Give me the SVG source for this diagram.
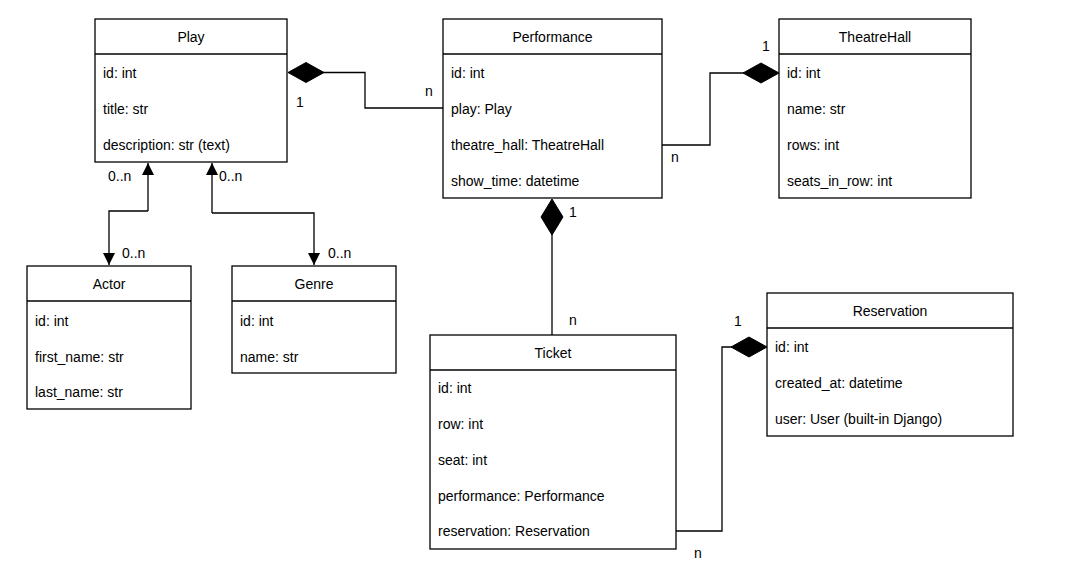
<svg xmlns="http://www.w3.org/2000/svg" width="1071" height="576" viewBox="0 0 1071 576">
<style>
.box{fill:#fff;stroke:#000;stroke-width:1.3}
.sep{stroke:#000;stroke-width:1.3}
text{font-family:"Liberation Sans",Arial,sans-serif;font-size:14px;fill:#000}
.h{text-anchor:middle}
.ln{fill:none;stroke:#000;stroke-width:1.3}
.dia{fill:#000;stroke:#000;stroke-width:1}
</style>
<defs>
<marker id="arr" markerWidth="12" markerHeight="12" refX="10" refY="5" orient="auto" markerUnits="userSpaceOnUse" viewBox="0 0 10 10">
<path d="M0,0 L10,5 L0,10 Z" fill="#000"/>
</marker>
</defs>
<rect width="1071" height="576" fill="#fff"/>

<g id="connectors">
  <!-- Play - Performance -->
  <path class="ln" d="M323,72.5 H365 V108 H443"/>
  <polygon class="dia" points="288,72.5 306,62.5 324,72.5 306,82.5"/>
  <text x="296" y="107">1</text>
  <text x="425" y="96">n</text>
  <!-- Performance - TheatreHall -->
  <path class="ln" d="M662,145 H710 V73 H744"/>
  <polygon class="dia" points="743,73 761,63 779,73 761,83"/>
  <text x="762" y="51">1</text>
  <text x="671" y="162">n</text>
  <!-- Performance - Ticket -->
  <path class="ln" d="M552,234 V335"/>
  <polygon class="dia" points="552,199 563,217 552,235 541,217"/>
  <text x="569" y="217">1</text>
  <text x="569" y="325">n</text>
  <!-- Ticket - Reservation -->
  <path class="ln" d="M676,531 H722 V347 H732"/>
  <polygon class="dia" points="731,347 749,337 767,347 749,357"/>
  <text x="734" y="326">1</text>
  <text x="694" y="558">n</text>
  <!-- Play - Actor -->
  <path class="ln" d="M148,211 V163" marker-end="url(#arr)"/>
  <path class="ln" d="M148,211 H109 V265" marker-end="url(#arr)"/>
  <text x="108" y="181">0..n</text>
  <text x="122" y="258">0..n</text>
  <!-- Play - Genre -->
  <path class="ln" d="M212,213 V163" marker-end="url(#arr)"/>
  <path class="ln" d="M212,213 H314 V265" marker-end="url(#arr)"/>
  <text x="219" y="181">0..n</text>
  <text x="328" y="258">0..n</text>
</g>

<g id="Play">
  <rect class="box" x="95" y="19" width="192" height="143"/>
  <line class="sep" x1="95" y1="54" x2="287" y2="54"/>
  <text class="h" x="191" y="42">Play</text>
  <text x="103" y="78">id: int</text>
  <text x="103" y="114">title: str</text>
  <text x="103" y="150">description: str (text)</text>
</g>

<g id="Performance">
  <rect class="box" x="443" y="19" width="219" height="179"/>
  <line class="sep" x1="443" y1="54" x2="662" y2="54"/>
  <text class="h" x="552.5" y="42">Performance</text>
  <text x="451" y="78">id: int</text>
  <text x="451" y="114">play: Play</text>
  <text x="451" y="150">theatre_hall: TheatreHall</text>
  <text x="451" y="186">show_time: datetime</text>
</g>

<g id="TheatreHall">
  <rect class="box" x="779" y="19" width="192" height="179"/>
  <line class="sep" x1="779" y1="54" x2="971" y2="54"/>
  <text class="h" x="875" y="42">TheatreHall</text>
  <text x="787" y="78">id: int</text>
  <text x="787" y="114">name: str</text>
  <text x="787" y="150">rows: int</text>
  <text x="787" y="186">seats_in_row: int</text>
</g>

<g id="Actor">
  <rect class="box" x="27" y="266" width="164" height="143"/>
  <line class="sep" x1="27" y1="301" x2="191" y2="301"/>
  <text class="h" x="109" y="289">Actor</text>
  <text x="35" y="326">id: int</text>
  <text x="35" y="362">first_name: str</text>
  <text x="35" y="397">last_name: str</text>
</g>

<g id="Genre">
  <rect class="box" x="232" y="266" width="164" height="107"/>
  <line class="sep" x1="232" y1="301" x2="396" y2="301"/>
  <text class="h" x="314" y="289">Genre</text>
  <text x="240" y="326">id: int</text>
  <text x="240" y="362">name: str</text>
</g>

<g id="Ticket">
  <rect class="box" x="430" y="335" width="246" height="214"/>
  <line class="sep" x1="430" y1="370" x2="676" y2="370"/>
  <text class="h" x="553" y="358">Ticket</text>
  <text x="438" y="393">id: int</text>
  <text x="438" y="429">row: int</text>
  <text x="438" y="465">seat: int</text>
  <text x="438" y="501">performance: Performance</text>
  <text x="438" y="536">reservation: Reservation</text>
</g>

<g id="Reservation">
  <rect class="box" x="767" y="293" width="246" height="143"/>
  <line class="sep" x1="767" y1="328" x2="1013" y2="328"/>
  <text class="h" x="890" y="316">Reservation</text>
  <text x="775" y="352">id: int</text>
  <text x="775" y="388">created_at: datetime</text>
  <text x="775" y="424">user: User (built-in Django)</text>
</g>
</svg>
